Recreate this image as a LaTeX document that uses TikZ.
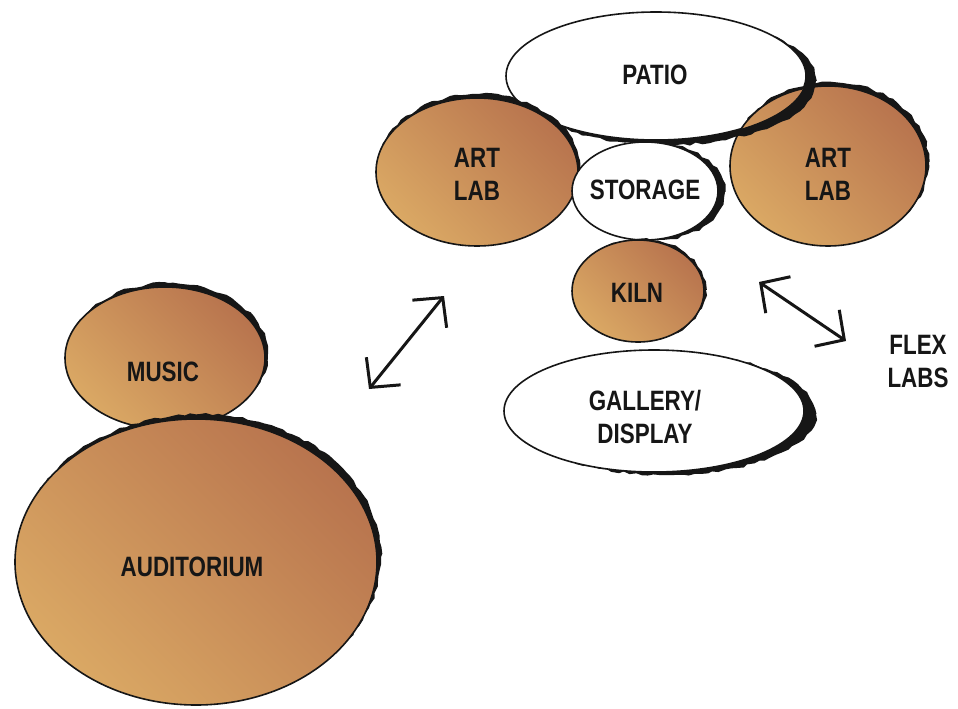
\documentclass[tikz,border=0pt]{standalone}
\usepackage{fontspec}
\newfontfamily\labelfont[FakeStretch=0.8]{Liberation Sans}
\usetikzlibrary{shapes.geometric,arrows.meta,decorations.pathmorphing,calc}

\definecolor{clayLight}{RGB}{218,168,100}
\definecolor{clayDark}{RGB}{184,116,78}
\definecolor{inkBlack}{RGB}{22,22,22}

\tikzset{
  room/.style={ellipse, draw=inkBlack, line width=1.6pt, inner sep=0pt},
  clay/.style={room, top color=clayDark, bottom color=clayLight, shading angle=-45},
  openroom/.style={room, fill=white},
  tag/.style={font=\labelfont\bfseries\fontsize{28}{33}\selectfont, text=inkBlack, align=center, inner sep=0pt},
  link/.style={draw=inkBlack, line width=3pt,
    {Straight Barb[length=21pt,width=44pt]}-{Straight Barb[length=21pt,width=44pt]}},
  brush/.style={fill=inkBlack, decorate,
    decoration={random steps, segment length=6pt, amplitude=1.3pt}}
}

% heavy marker stroke on the outside of an ellipse:
% #1 node, #2 x radius, #3 y radius, #4/#5 offset of the stroke
\newcommand\inkrim[5]{%
  \begin{scope}[even odd rule]
    \clip (-20,-20) rectangle (980,730)
      (#1) ellipse [x radius=#2, y radius=#3];
    \path[brush] ($(#1)+(#4,#5)$) ellipse [x radius=#2, y radius=#3];
  \end{scope}}

\begin{document}
\begin{tikzpicture}[x=1pt,y=-1pt]
  \useasboundingbox (0,0) rectangle (958,709);
  \fill[white] (0,0) rectangle (958,709);

  % open-air and display spaces
  \node[openroom, minimum width=300pt, minimum height=128pt] (patio) at (656,76) {};
  \node[openroom, minimum width=300pt, minimum height=122pt] (gallery) at (654,411) {};
  \inkrim{gallery}{150}{61}{12}{3}

  % art wing
  \node[clay, minimum width=202pt, minimum height=148pt] (artL) at (477,172) {};
  \inkrim{artL}{101}{74}{2}{-4}
  \node[clay, minimum width=196pt, minimum height=160pt] (artR) at (828,166) {};
  \inkrim{artR}{98}{80}{3}{-4}
  \inkrim{patio}{150}{64}{10}{5}
  \node[openroom, minimum width=146pt, minimum height=98pt] (storage) at (645,191) {};
  \inkrim{storage}{73}{49}{7}{1}
  \node[clay, minimum width=132pt, minimum height=102pt] (kiln) at (638,291) {};
  \inkrim{kiln}{66}{51}{2}{-1}

  % performance wing
  \node[clay, minimum width=200pt, minimum height=142pt] (music) at (165,358) {};
  \inkrim{music}{100}{71}{3}{-4}
  \node[clay, minimum width=362pt, minimum height=286pt] (audit) at (196,562) {};
  \inkrim{audit}{181}{143}{4}{-5}

  % labels
  \node[tag] (patio-t)   at (655,75)  {PATIO};
  \node[tag] (artL-t)    at (477,174) {ART\\LAB};
  \node[tag] (artR-t)    at (828,174) {ART\\LAB};
  \node[tag] (storage-t) at (645,190) {STORAGE};
  \node[tag] (kiln-t)    at (637,293) {KILN};
  \node[tag] (gallery-t) at (645,417) {GALLERY/\\DISPLAY};
  \node[tag] (music-t)   at (163,372) {MUSIC};
  \node[tag] (audit-t)   at (192,567) {AUDITORIUM};
  \node[tag] (flex)      at (918,362) {FLEX\\LABS};

  % circulation between wings
  \coordinate (westEnd) at (369,389);
  \coordinate (westTip) at (444,296);
  \draw[link] (westEnd) -- (westTip);
  \coordinate (eastTip) at (759,282);
  \coordinate (eastEnd) at (846,341);
  \draw[link] (eastTip) -- (eastEnd);
\end{tikzpicture}
\end{document}
